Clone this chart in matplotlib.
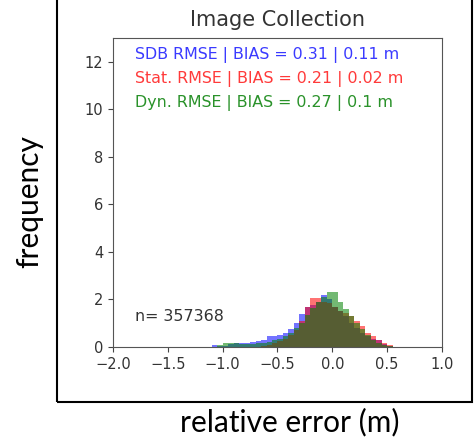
import numpy as np
import matplotlib.pyplot as plt
from matplotlib.patches import Rectangle

# histogram bins (relative error, m) and densities
edges = np.round(np.arange(-1.1, 0.6001, 0.05), 3)

sdb = [0.1, 0.03, 0.05, 0.12, 0.15, 0.15, 0.15, 0.2, 0.25, 0.3, 0.45, 0.48,
       0.5, 0.6, 0.75, 1.0, 1.4, 1.69, 1.75, 1.9, 2.18, 2.0, 1.7, 1.5,
       1.3, 1.0, 0.8, 0.6, 0.45, 0.35, 0.28, 0.12, 0.05, 0.0]
stat = [0.0, 0.0, 0.0, 0.0, 0.0, 0.0, 0.0, 0.0, 0.0, 0.05, 0.1, 0.15,
        0.25, 0.35, 0.5, 0.7, 1.1, 1.69, 2.05, 2.05, 1.9, 1.85, 1.7, 1.5,
        1.41, 1.3, 1.1, 0.9, 0.6, 0.45, 0.3, 0.15, 0.08, 0.0]
dyn = [0.0, 0.1, 0.18, 0.18, 0.15, 0.14, 0.14, 0.14, 0.15, 0.17, 0.2, 0.28,
       0.35, 0.45, 0.6, 0.8, 1.0, 1.35, 1.65, 1.9, 2.1, 2.3, 2.3, 1.9,
       1.6, 1.3, 1.0, 0.75, 0.5, 0.3, 0.15, 0.08, 0.03, 0.0]

labels = ["SDB RMSE | BIAS = 0.31 | 0.11 m",
          "Stat. RMSE | BIAS = 0.21 | 0.02 m",
          "Dyn. RMSE | BIAS = 0.27 | 0.1 m"]
n_text = "n= 357368"

fig = plt.figure(figsize=(4.74, 4.40), dpi=100)
ax = fig.add_axes([0.2384, 0.2114, 0.694, 0.7022])

cols = ["blue", "red", "green"]
for vals, c in zip([sdb, stat, dyn], cols):
    ax.stairs(vals, edges, fill=True, color=c, alpha=0.55, linewidth=0)

ax.set_xlim(-2.0, 1.0)
ax.set_ylim(0, 13)
ax.set_xticks(np.arange(-2.0, 1.01, 0.5))
ax.set_yticks(np.arange(0, 13, 2))
ax.tick_params(labelsize=10.5, colors="#444444", labelcolor="#333333")
for s in ax.spines.values():
    s.set_color("#555555")

ys = [12.3, 11.26, 10.28]
tcols = ["#3a3aff", "#ff3a3a", "#2a922a"]
for lab, y, c in zip(labels, ys, tcols):
    ax.text(-1.8, y, lab, color=c, fontsize=11.45, va="center")
ax.text(-1.8, 1.3, n_text, color="#333333", fontsize=11.45, va="center")

fig.text(0.586, 0.9545, "Image Collection", fontsize=15, color="#333333",
         ha="center", va="center")

# outer frame and big labels
fig.add_artist(Rectangle((0.1203, 0.0864), 0.8765, 0.95, transform=fig.transFigure,
                         fill=False, edgecolor="black", linewidth=1.5))
fig.text(0.061, 0.541, "frequency", fontsize=21.5, family="Lato",
         rotation=90, ha="center", va="center")
fig.text(0.612, 0.041, "relative error (m)", fontsize=21.5, family="Lato",
         ha="center", va="center")

fig.savefig("out.png", dpi=100)
